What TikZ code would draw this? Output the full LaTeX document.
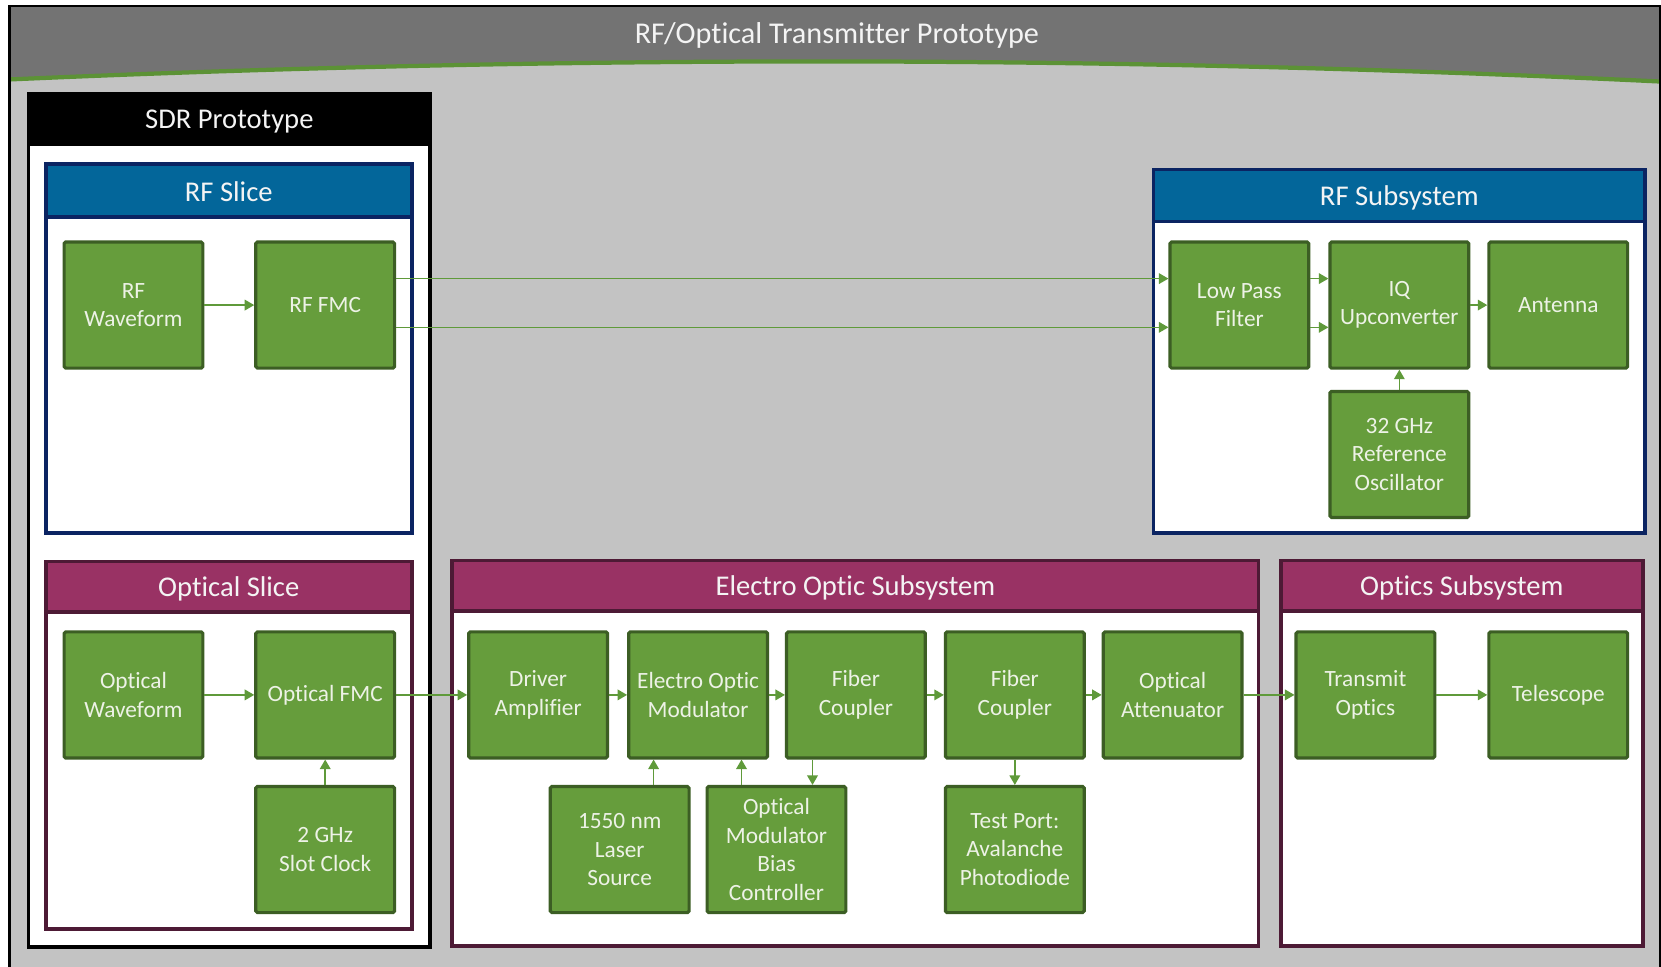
\documentclass[tikz,border=0pt]{standalone}
\usepackage{fontspec}
\setmainfont{Carlito}[Ligatures=NoCommon]
\usetikzlibrary{arrows.meta}
\definecolor{hdrgray}{HTML}{737373}
\definecolor{bggray}{HTML}{C3C3C3}
\definecolor{linegreen}{HTML}{5C9236}
\definecolor{bluehdr}{HTML}{03669A}
\definecolor{navy}{HTML}{0B2462}
\definecolor{purphdr}{HTML}{993264}
\definecolor{purpbrd}{HTML}{4D1A35}
\definecolor{boxfill}{HTML}{669D3C}
\definecolor{boxbrd}{HTML}{3C5E24}
\definecolor{arrgreen}{HTML}{5F9A3A}
\definecolor{boxtext}{HTML}{EDF2E6}
\definecolor{hdrtext}{HTML}{F4F4F4}
\tikzset{
  gbox/.style={draw=boxbrd, fill=boxfill, line width=3pt, rounded corners=1.5pt,
    minimum width=131pt, minimum height=119pt, inner sep=2pt, align=center,
    text=boxtext, font=\fontsize{22}{26.8}\selectfont},
  secttitle/.style={text=hdrtext, font=\fontsize{27}{32}\selectfont, inner sep=0pt},
  arr/.style={draw=arrgreen, line width=1.5pt, -{Triangle[length=9pt,width=10pt]}},
}
\begin{document}
\begin{tikzpicture}[x=1pt,y=-1pt]
\clip (0,0) rectangle (1568,912);
\fill[white] (0,0) rectangle (1568,912);
% outer frame
\fill[bggray] (9,6) rectangle (1568,930);
\fill[hdrgray] (9,6) -- (1568,6) -- (1568,77) .. controls (1050,52) and (530,52) .. (9,75) -- cycle;
\draw[linegreen, line width=4pt] (9,75) .. controls (530,52) and (1050,52) .. (1568,77);
\draw[black, line width=2pt] (9,930) -- (9,6) -- (1567,6) -- (1567,930);
\node[secttitle, font=\fontsize{28.5}{33}\selectfont] (title) at (790,33) {RF/Optical Transmitter Prototype};

% SDR Prototype
\fill[white] (27,89) rectangle (406,894);
\fill[black] (27,89) rectangle (406,138);
\draw[black, line width=3.5pt] (27,89) rectangle (406,894);
\node[secttitle] (sdr) at (216.5,115) {SDR Prototype};

% RF Slice
\fill[white] (43.5,155) rectangle (389,503);
\fill[bluehdr] (43.5,155) rectangle (389,205);
\draw[navy, line width=3.5pt] (43.5,205) -- (389,205);
\draw[navy, line width=3.5pt] (43.5,155) rectangle (389,503);
\node[secttitle] (rfslice) at (216,181) {RF Slice};

% Optical Slice
\fill[white] (43.5,530) rectangle (389,877);
\fill[purphdr] (43.5,530) rectangle (389,578);
\draw[purpbrd, line width=3.5pt] (43.5,578) -- (389,578);
\draw[purpbrd, line width=3.5pt] (43.5,530) rectangle (389,877);
\node[secttitle] (optslice) at (216,555.5) {Optical Slice};

% Electro Optic Subsystem
\fill[white] (427,529) rectangle (1188,893);
\fill[purphdr] (427,529) rectangle (1188,577);
\draw[purpbrd, line width=3.5pt] (427,577) -- (1188,577);
\draw[purpbrd, line width=3.5pt] (427,529) rectangle (1188,893);
\node[secttitle] (eosub) at (807.5,554.5) {Electro Optic Subsystem};

% Optics Subsystem
\fill[white] (1209,529) rectangle (1551,893);
\fill[purphdr] (1209,529) rectangle (1551,577);
\draw[purpbrd, line width=3.5pt] (1209,577) -- (1551,577);
\draw[purpbrd, line width=3.5pt] (1209,529) rectangle (1551,893);
\node[secttitle] (optsub) at (1380,554.5) {Optics Subsystem};

% RF Subsystem
\fill[white] (1089,160) rectangle (1553,503);
\fill[bluehdr] (1089,160) rectangle (1553,209);
\draw[navy, line width=3.5pt] (1089,209) -- (1553,209);
\draw[navy, line width=3.5pt] (1089,160) rectangle (1553,503);
\node[secttitle] (rfsub) at (1321,186.5) {RF Subsystem};

% boxes
\node[gbox] (rfw)   at (126,288)  {RF\\Waveform};
\node[gbox] (rffmc) at (307,288)  {RF FMC};
\node[gbox] (ow)    at (126,656)  {Optical\\Waveform};
\node[gbox] (ofmc)  at (307,656)  {Optical FMC};
\node[gbox] (clk)   at (307,802)  {2 GHz\\Slot Clock};
\node[gbox] (da)    at (508,656)  {Driver\\Amplifier};
\node[gbox] (eom)   at (659,656)  {Electro Optic\\Modulator};
\node[gbox] (fc1)   at (808,656)  {Fiber\\Coupler};
\node[gbox] (fc2)   at (958,656)  {Fiber\\Coupler};
\node[gbox] (oa)    at (1107,656) {Optical\\Attenuator};
\node[gbox] (laser) at (585,802)  {1550 nm\\Laser\\Source};
\node[gbox] (bias)  at (733,802)  {Optical\\Modulator\\Bias\\Controller};
\node[gbox] (tp)    at (958,802)  {Test Port:\\Avalanche\\Photodiode};
\node[gbox] (to)    at (1289,656) {Transmit\\Optics};
\node[gbox] (tel)   at (1471,656) {Telescope};
\node[gbox] (lpf)   at (1170,288) {Low Pass\\Filter};
\node[gbox] (iq)    at (1321,288) {IQ\\Upconverter};
\node[gbox] (ant)   at (1471,288) {Antenna};
\node[gbox] (osc)   at (1321,429) {32 GHz\\Reference\\Oscillator};

% connectors
\draw[arr] (rfw) -- (rffmc);
\draw[arr] ([yshift=25pt]rffmc.east) -- ([yshift=25pt]lpf.west);
\draw[arr] ([yshift=-21pt]rffmc.east) -- ([yshift=-21pt]lpf.west);
\draw[arr] ([yshift=25pt]lpf.east) -- ([yshift=25pt]iq.west);
\draw[arr] ([yshift=-21pt]lpf.east) -- ([yshift=-21pt]iq.west);
\draw[arr] (iq) -- (ant);
\draw[arr] (osc) -- (iq);
\draw[arr] (ow) -- (ofmc);
\draw[arr] (clk) -- (ofmc);
\draw[arr] (ofmc) -- (da);
\draw[arr] (da) -- (eom);
\draw[arr] (eom) -- (fc1);
\draw[arr] (fc1) -- (fc2);
\draw[arr] (fc2) -- (oa);
\draw[arr] (oa) -- (to);
\draw[arr] (to) -- (tel);
\draw[arr] ([xshift=32pt]laser.north) -- ([xshift=32pt]laser.north |- eom.south);
\draw[arr] ([xshift=-33pt]bias.north) -- ([xshift=-33pt]bias.north |- eom.south);
\draw[arr] ([xshift=-41pt]fc1.south) -- ([xshift=-41pt]fc1.south |- bias.north);
\draw[arr] (fc2) -- (tp);
\end{tikzpicture}
\end{document}
